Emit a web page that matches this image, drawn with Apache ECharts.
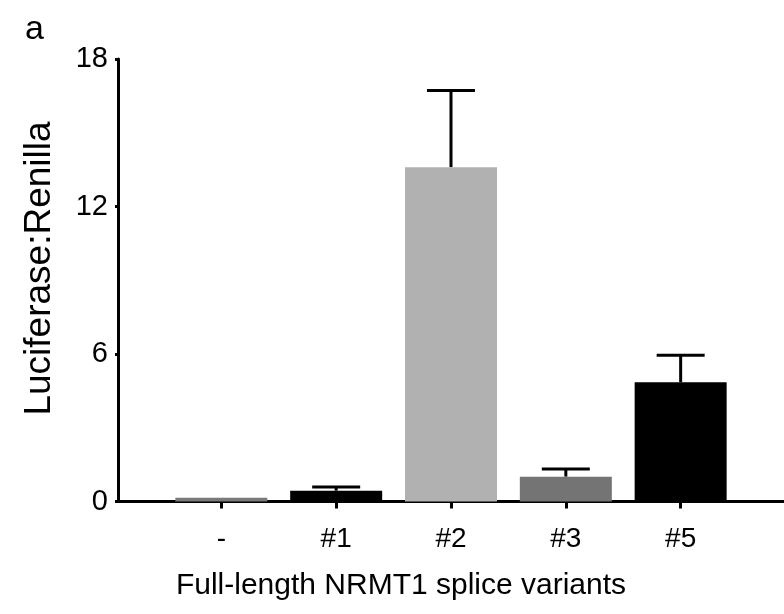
<!DOCTYPE html>
<html>
<head>
<meta charset="utf-8">
<script src="https://cdn.jsdelivr.net/npm/echarts@6/dist/echarts.min.js"></script>
<style>html,body{margin:0;padding:0;background:#fff;}#c{width:784px;height:614px;}</style>
</head>
<body>
<div id="c"></div>
<script>
var categories = ['-', '#1', '#2', '#3', '#5'];
var means = [0.15, 0.44, 13.6, 1.01, 4.85];
var errors = [0, 0.15, 3.12, 0.31, 1.1];
var barColors = ['#7a7a7a', '#000000', '#b1b1b1', '#747474', '#000000'];
var yTicks = [0, 6, 12, 18];
var xTitle = 'Full-length NRMT1 splice variants';
var yTitle = 'Luciferase:Renilla';

var positions = categories.map(function (c, i) { return i; });
var FONT = 'Liberation Sans, Arial, Helvetica, sans-serif';

var chart = echarts.init(document.getElementById('c'), null, {renderer: 'canvas'});
chart.setOption({
  animation: false,
  backgroundColor: '#ffffff',
  title: [
    {
      text: 'a', left: 20, top: 8,
      textStyle: {fontFamily: FONT, fontSize: 34, fontWeight: 'normal', color: '#000'}
    },
    {
      text: xTitle, left: 396, top: 566, textAlign: 'center',
      textStyle: {fontFamily: FONT, fontSize: 30, fontWeight: 'normal', color: '#000'}
    }
  ],
  graphic: [{
    type: 'text',
    x: 40, y: 268.5,
    rotation: Math.PI / 2,
    style: {
      text: yTitle, fill: '#000',
      font: '37px ' + FONT,
      align: 'center', verticalAlign: 'middle'
    }
  }],
  grid: {left: 118, right: 0, top: 59, bottom: 112.5, containLabel: false},
  xAxis: {
    type: 'value', min: -0.9, max: 4.9,
    splitLine: {show: false},
    axisLine: {show: true, onZero: false, lineStyle: {color: '#000', width: 3}},
    axisTick: {show: true, customValues: positions, length: 7, lineStyle: {color: '#000', width: 3}},
    axisLabel: {
      customValues: positions, margin: 24,
      formatter: function (v) { return categories[Math.round(v)]; },
      fontFamily: FONT, fontSize: 28, color: '#000'
    }
  },
  yAxis: {
    type: 'value', min: 0, max: 18, interval: 6,
    splitLine: {show: false},
    axisLine: {show: true, onZero: false, lineStyle: {color: '#000', width: 3}},
    axisTick: {show: true, length: 3, lineStyle: {color: '#000', width: 3}},
    axisLabel: {
      margin: 10, fontFamily: FONT, fontSize: 29, color: '#000',
      formatter: function (v) { return yTicks.indexOf(v) >= 0 ? String(v) : ''; }
    }
  },
  series: [
    {
      type: 'custom',
      z: 1,
      renderItem: function (params, api) {
        var x = api.value(0), m = api.value(1), e = api.value(2);
        if (!(e > 0)) return null;
        var p0 = api.coord([x, m]);
        var p1 = api.coord([x, m + e]);
        var style = {stroke: '#000', lineWidth: 3};
        return {
          type: 'group',
          children: [
            {type: 'line', shape: {x1: p0[0], y1: p0[1], x2: p1[0], y2: p1[1]}, style: style},
            {type: 'line', shape: {x1: p1[0] - 24, y1: p1[1], x2: p1[0] + 24, y2: p1[1]}, style: style}
          ]
        };
      },
      data: positions.map(function (p, i) { return [p, means[i], errors[i]]; })
    },
    {
      type: 'bar',
      z: 2,
      barWidth: 92,
      data: positions.map(function (p, i) {
        return {value: [p, means[i]], itemStyle: {color: barColors[i]}};
      })
    }
  ]
});
</script>
</body>
</html>
